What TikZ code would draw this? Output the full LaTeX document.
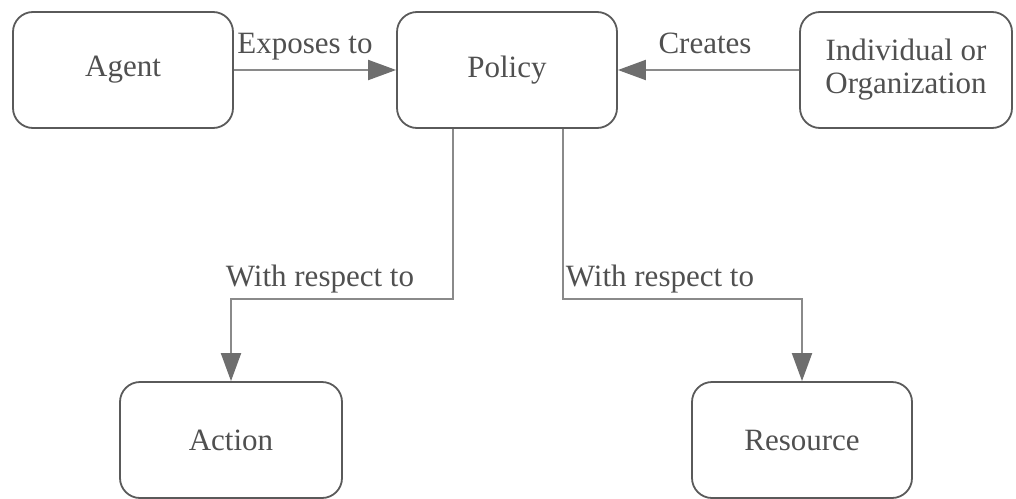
\documentclass[tikz,border=0pt]{standalone}
\usepackage{fontspec}
\setmainfont{Liberation Serif}
\usetikzlibrary{arrows.meta}
\definecolor{boxline}{HTML}{5A5A5A}
\definecolor{wire}{HTML}{8A8A8A}
\definecolor{tipgray}{HTML}{6E6E6E}
\definecolor{txt}{HTML}{505050}
\tikzset{
  entity/.style={draw=boxline, line width=1.8pt, rounded corners=20pt,
    minimum height=116pt, align=center, text=txt,
    font=\fontsize{31}{33}\selectfont},
  link/.style={draw=wire, line width=2pt,
    -{Triangle[length=28pt,width=20pt,fill=tipgray,color=tipgray]}},
  linklabel/.style={text=txt, font=\fontsize{31}{33}\selectfont,
    anchor=base, inner sep=0pt}
}
\begin{document}
\begin{tikzpicture}[x=1pt,y=-1pt]
  \useasboundingbox (0,0) rectangle (1016,498);

  % entities
  \node[entity, minimum width=220pt] (agent) at (123,70) {Agent};
  \node[entity, minimum width=220pt] (policy) at (507,70) {Policy};
  \node[entity, minimum width=212pt] (owner) at (906,70) {Individual or\\Organization};
  \node[entity, minimum width=222pt] (action) at (231,440) {Action};
  \node[entity, minimum width=220pt] (resource) at (802,440) {Resource};

  % relations
  \draw[link] (agent.east) -- (policy.west);
  \draw[link] (owner.west) -- (policy.east);
  \draw[link] ([xshift=-54pt]policy.south) -- ++(0,170) -| (action.north);
  \draw[link] ([xshift=56pt]policy.south) -- ++(0,170) -| (resource.north);

  % relation labels
  \node[linklabel] (lexp) at (305,53) {Exposes to};
  \node[linklabel] (lcre) at (705,53) {Creates};
  \node[linklabel] (lact) at (320,286) {With respect to};
  \node[linklabel] (lres) at (660,286) {With respect to};
\end{tikzpicture}
\end{document}
